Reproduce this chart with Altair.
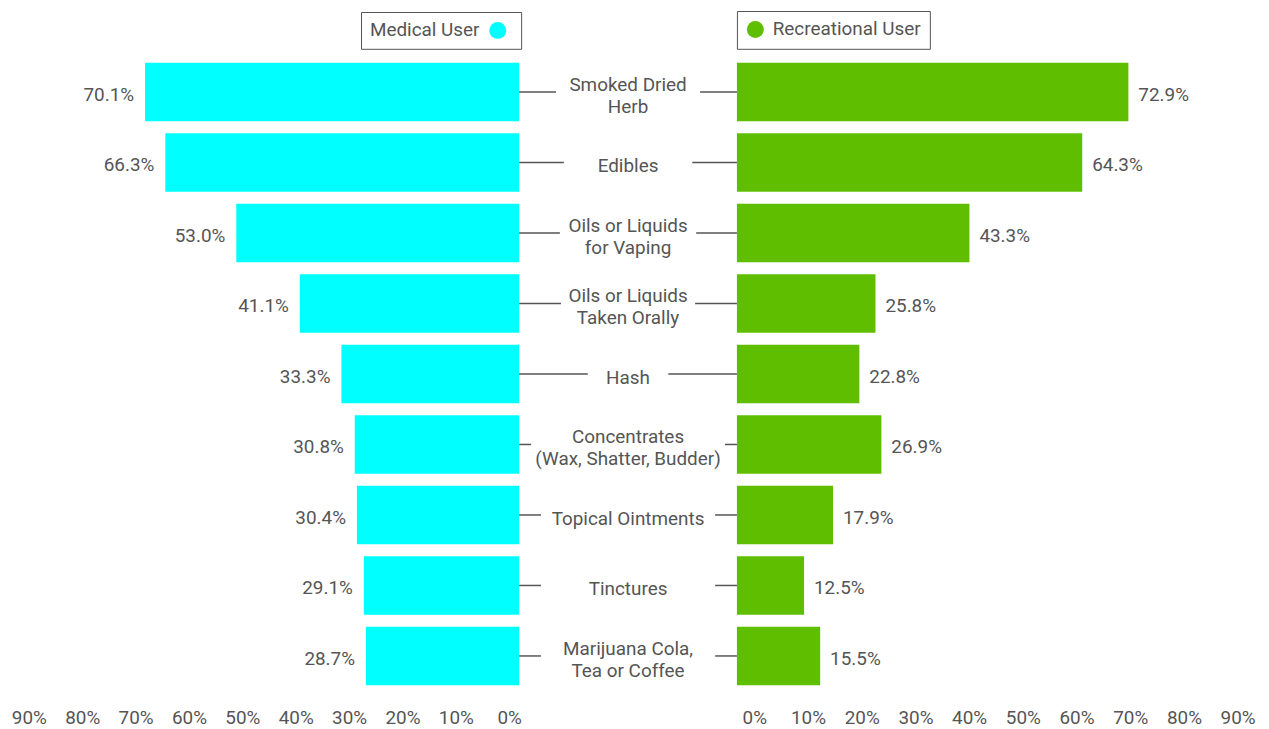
import altair as alt
import pandas as pd

# ---- data ----
categories = [
    "Smoked Dried\nHerb",
    "Edibles",
    "Oils or Liquids\nfor Vaping",
    "Oils or Liquids\nTaken Orally",
    "Hash",
    "Concentrates\n(Wax, Shatter, Budder)",
    "Topical Ointments",
    "Tinctures",
    "Marijuana Cola,\nTea or Coffee",
]
medical = [70.1, 66.3, 53.0, 41.1, 33.3, 30.8, 30.4, 29.1, 28.7]
recreational = [72.9, 64.3, 43.3, 25.8, 22.8, 26.9, 17.9, 12.5, 15.5]
# length of the connector line on each side of a label, in % of the label column
connector = [16.9, 20.5, 18.7, 19.2, 31.5, 5.5, 10.0, 10.0, 10.0]
tick_values = [0, 10, 20, 30, 40, 50, 60, 70, 80, 90]
series = ["Medical User", "Recreational User"]
colors = ["#00ffff", "#5fbe00"]

TEXT = "#555555"
FONT = "Roboto"
FS = 19

df = pd.DataFrame({
    "category": categories,
    "medical": medical,
    "recreational": recreational,
    "connector": connector,
})
df["med_series"] = series[0]
df["rec_series"] = series[1]
df["right_start"] = 100 - df["connector"]
df["zero"] = 0
df["full"] = 100

H = 638
y_enc = alt.Y("category:N", sort=categories, axis=None,
              scale=alt.Scale(paddingInner=0.17, paddingOuter=0.085))


def x_axis(offset):
    return alt.Axis(values=tick_values, labelExpr="datum.value + '%'", domain=False,
                    ticks=False, grid=False, title=None, labelFontSize=FS,
                    labelColor=TEXT, labelFont=FONT, labelPadding=17,
                    labelOffset=offset, labelOverlap=False, labelFlush=False)


# ---- left (medical) ----
left_base = alt.Chart(df)
left_bars = left_base.mark_bar().encode(
    x=alt.X("medical:Q", scale=alt.Scale(domain=[0, 90], reverse=True, nice=False),
            axis=x_axis(-10)),
    y=y_enc,
    color=alt.Color("med_series:N",
                    scale=alt.Scale(domain=[series[0]], range=[colors[0]]),
                    # series name shown as the legend title, left of the symbol
                    legend=alt.Legend(orient="none", legendX=324, legendY=-45,
                                      title=series[0], titleOrient="left",
                                      titleFontSize=FS, titleFont=FONT,
                                      titleFontWeight="normal", titleColor=TEXT,
                                      titleAnchor="middle", titleBaseline="middle",
                                      titlePadding=8, strokeColor="#555555",
                                      padding=9, symbolType="circle",
                                      symbolSize=290, symbolOpacity=1,
                                      labelExpr="''", labelFontSize=1,
                                      labelOffset=5)),
)
left_text = left_base.transform_calculate(
    lab="format(datum.medical, '.1f') + '%'"
).mark_text(align="right", baseline="middle", dx=-11, dy=3, fontSize=FS,
            font=FONT, color=TEXT).encode(
    x=alt.X("medical:Q"), y=y_enc, text="lab:N")
left = alt.layer(left_bars, left_text).properties(width=483, height=H)

# ---- centre labels ----
cx = alt.Scale(domain=[0, 100], nice=False)
c_base = alt.Chart(df).transform_calculate(
    parts="split(datum.category, '\\n')"
).transform_calculate(
    single="length(datum.parts) == 1 ? datum.parts[0] : ''",
    first="length(datum.parts) > 1 ? datum.parts[0] : ''",
    second="length(datum.parts) > 1 ? datum.parts[1] : ''",
)
rule_l = c_base.mark_rule(color=TEXT, strokeWidth=1.5).encode(
    x=alt.X("zero:Q", scale=cx, axis=None), x2="connector:Q", y=y_enc)
rule_r = c_base.mark_rule(color=TEXT, strokeWidth=1.5).encode(
    x=alt.X("right_start:Q", scale=cx, axis=None), x2="full:Q", y=y_enc)


def c_label(field, dy):
    return c_base.mark_text(align="center", baseline="middle", dy=dy, fontSize=FS,
                            font=FONT, color=TEXT).encode(
        x=alt.value(109.5), y=y_enc, text=f"{field}:N")


center = alt.layer(rule_l, rule_r, c_label("single", 4), c_label("first", -7),
                   c_label("second", 15)).properties(width=219, height=H)

# ---- right (recreational) ----
right_base = alt.Chart(df)
right_bars = right_base.mark_bar().encode(
    x=alt.X("recreational:Q", scale=alt.Scale(domain=[0, 90], nice=False),
            axis=x_axis(17.5)),
    y=y_enc,
    color=alt.Color("rec_series:N",
                    scale=alt.Scale(domain=[series[1]], range=[colors[1]]),
                    legend=alt.Legend(orient="none", legendX=0, legendY=-46,
                                      title=None, strokeColor="#555555",
                                      padding=9, symbolType="circle",
                                      symbolSize=290, symbolOpacity=1,
                                      labelFontSize=FS,
                                      labelFont=FONT, labelColor=TEXT,
                                      labelOffset=8)),
)
right_text = right_base.transform_calculate(
    lab="format(datum.recreational, '.1f') + '%'"
).mark_text(align="left", baseline="middle", dx=10, dy=3, fontSize=FS,
            font=FONT, color=TEXT).encode(
    x=alt.X("recreational:Q"), y=y_enc, text="lab:N")
right = alt.layer(right_bars, right_text).properties(width=486, height=H)

chart = alt.hconcat(left, center, right, spacing=0, bounds="flush").resolve_scale(
    color="independent", x="independent"
).properties(
    padding={"left": 3, "top": 0, "right": 5, "bottom": 5}
).configure(font=FONT).configure_view(stroke=None)

chart.save("out.html", embed_options={"renderer": "svg", "actions": False})
